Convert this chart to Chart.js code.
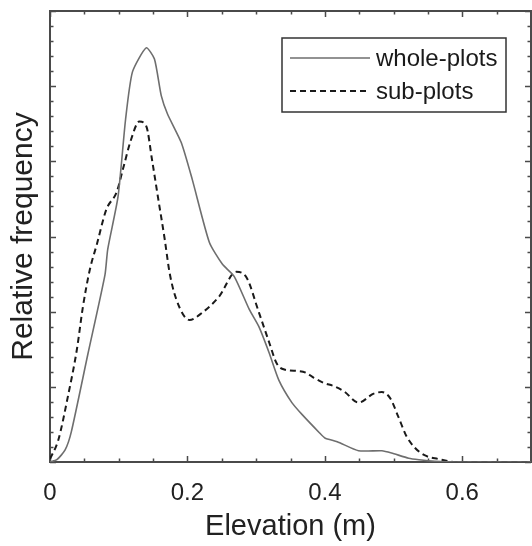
<!DOCTYPE html>
<html>
<head>
<meta charset="utf-8">
<script src="https://cdn.jsdelivr.net/npm/chart.js@4.4.1/dist/chart.umd.min.js"></script>
<style>
  html, body { margin: 0; padding: 0; background: #fff; }
  #wrap { width: 532px; height: 546px; position: relative; }
</style>
</head>
<body>
<div id="wrap"><canvas id="chart"></canvas></div>
<script>
// elevation (m) / relative frequency
const elevationWhole = [0, 0.010, 0.022, 0.031, 0.055, 0.080, 0.084, 0.099, 0.110, 0.120, 0.140, 0.152, 0.162, 0.171, 0.191, 0.207, 0.232, 0.251, 0.268, 0.290, 0.304, 0.319, 0.333, 0.352, 0.367, 0.392, 0.400, 0.418, 0.449, 0.483, 0.497, 0.522, 0.537, 0.560, 0.594, 0.70];
const freqWhole = [0, 0.03, 0.16, 0.40, 1.43, 2.49, 2.83, 3.53, 4.56, 5.19, 5.51, 5.36, 4.87, 4.63, 4.25, 3.76, 2.92, 2.63, 2.47, 2.03, 1.80, 1.45, 1.09, 0.79, 0.63, 0.39, 0.32, 0.27, 0.15, 0.15, 0.12, 0.05, 0.03, 0.01, 0, 0];

const elevationSub = [0, 0.012, 0.026, 0.039, 0.048, 0.058, 0.068, 0.082, 0.097, 0.106, 0.118, 0.130, 0.140, 0.149, 0.157, 0.167, 0.174, 0.184, 0.203, 0.222, 0.246, 0.271, 0.285, 0.304, 0.319, 0.330, 0.341, 0.362, 0.372, 0.384, 0.399, 0.413, 0.428, 0.449, 0.471, 0.483, 0.495, 0.507, 0.519, 0.531, 0.545, 0.565, 0.590, 0.70];
const freqSub = [0.04, 0.29, 0.87, 1.49, 2.07, 2.56, 2.89, 3.36, 3.59, 3.89, 4.29, 4.53, 4.47, 3.99, 3.53, 2.96, 2.52, 2.16, 1.89, 1.99, 2.20, 2.53, 2.47, 1.99, 1.59, 1.31, 1.23, 1.21, 1.19, 1.12, 1.05, 1.01, 0.94, 0.79, 0.91, 0.93, 0.85, 0.60, 0.34, 0.19, 0.09, 0.04, 0, 0];

const seriesLabels = ['whole-plots', 'sub-plots'];
const xTickValues = [0, 0.2, 0.4, 0.6];
const xTitle = 'Elevation (m)';
const yTitle = 'Relative frequency';

const AXIS_COLOR = '#4a4a4a';
const FONT = '"Liberation Sans", Arial, sans-serif';

const toPoints = (xs, ys) => xs.map((x, i) => ({ x: x, y: ys[i] }));

// box round the plot with inward ticks on every side
const framePlugin = {
  id: 'frame',
  beforeDatasetsDraw: (chart) => {
    const { ctx, chartArea: a, scales } = chart;
    const xs = scales.x, ys = scales.y;
    ctx.save();
    ctx.strokeStyle = AXIS_COLOR;
    ctx.lineWidth = 1.5;
    // x ticks, every 0.05, long at 0.2
    for (let v = 0; v <= xs.max + 1e-9; v += 0.05) {
      const px = Math.round(xs.getPixelForValue(v)) + 0.5;
      const major = Math.abs(v / 0.2 - Math.round(v / 0.2)) < 1e-6;
      const len = major ? 6 : 3.5;
      ctx.beginPath();
      ctx.moveTo(px, a.bottom); ctx.lineTo(px, a.bottom - len);
      ctx.moveTo(px, a.top); ctx.lineTo(px, a.top + len);
      ctx.stroke();
    }
    // y ticks, every 0.2, long at the integers
    for (let i = 0; i <= 30; i++) {
      const v = i * 0.2;
      const py = Math.round(ys.getPixelForValue(v)) + 0.5;
      const len = i % 5 === 0 ? 6 : 3.5;
      ctx.beginPath();
      ctx.moveTo(a.left, py); ctx.lineTo(a.left + len, py);
      ctx.moveTo(a.right, py); ctx.lineTo(a.right - len, py);
      ctx.stroke();
    }
    ctx.lineWidth = 2;
    ctx.strokeRect(a.left, a.top, a.right - a.left, a.bottom - a.top);
    ctx.restore();
  },
};

// framed legend in the upper right
const legendPlugin = {
  id: 'boxLegend',
  afterDraw: (chart) => {
    const { ctx } = chart;
    const x0 = 282, y0 = 38, w = 224, h = 74;
    ctx.save();
    ctx.fillStyle = '#fff';
    ctx.fillRect(x0, y0, w, h);
    ctx.strokeStyle = '#333';
    ctx.lineWidth = 1.5;
    ctx.strokeRect(x0, y0, w, h);
    ctx.font = '24px ' + FONT;
    ctx.textBaseline = 'middle';
    ctx.fillStyle = '#1a1a1a';
    chart.data.datasets.forEach((ds, i) => {
      const y = y0 + 20 + i * 33;
      ctx.beginPath();
      ctx.strokeStyle = ds.borderColor;
      ctx.lineWidth = ds.borderWidth;
      ctx.setLineDash(ds.borderDash || []);
      ctx.moveTo(x0 + 8, y); ctx.lineTo(x0 + 88, y);
      ctx.stroke();
      ctx.setLineDash([]);
      ctx.fillText(ds.label, x0 + 94, y + 1);
    });
    ctx.restore();
  },
};

new Chart(document.getElementById('chart'), {
  type: 'line',
  data: {
    datasets: [
      {
        label: seriesLabels[0],
        data: toPoints(elevationWhole, freqWhole),
        borderColor: '#6e6e6e',
        borderWidth: 1.6,
        pointRadius: 0,
        tension: 0.2,
      },
      {
        label: seriesLabels[1],
        data: toPoints(elevationSub, freqSub),
        borderColor: '#1a1a1a',
        borderWidth: 2,
        borderDash: [6, 4],
        pointRadius: 0,
        cubicInterpolationMode: 'monotone',
      },
    ],
  },
  plugins: [framePlugin, legendPlugin],
  options: {
    responsive: true,
    maintainAspectRatio: false,
    animation: false,
    layout: { padding: { top: 11, right: 1, left: 0, bottom: 0 } },
    plugins: { legend: { display: false }, tooltip: { enabled: false } },
    scales: {
      x: {
        type: 'linear',
        min: 0,
        max: 0.7,
        grid: { display: false, drawTicks: false },
        border: { display: false },
        afterBuildTicks: (s) => { s.ticks = xTickValues.map((v) => ({ value: v })); },
        afterFit: (s) => { s.height = 84; },
        ticks: {
          padding: 17,
          maxRotation: 0,
          autoSkip: false,
          color: '#222',
          font: { size: 24, family: FONT },
          callback: (v) => String(v),
        },
        title: {
          display: true,
          text: xTitle,
          color: '#222',
          padding: { top: 0, bottom: 2 },
          font: { size: 29, family: FONT },
        },
      },
      y: {
        type: 'linear',
        min: 0,
        max: 6,
        grid: { display: false, drawTicks: false },
        border: { display: false },
        afterFit: (s) => { s.width = 50; },
        ticks: { display: false },
        title: {
          display: true,
          text: yTitle,
          color: '#222',
          padding: { top: 6, bottom: 0 },
          font: { size: 30, family: FONT },
        },
      },
    },
  },
});
</script>
</body>
</html>
